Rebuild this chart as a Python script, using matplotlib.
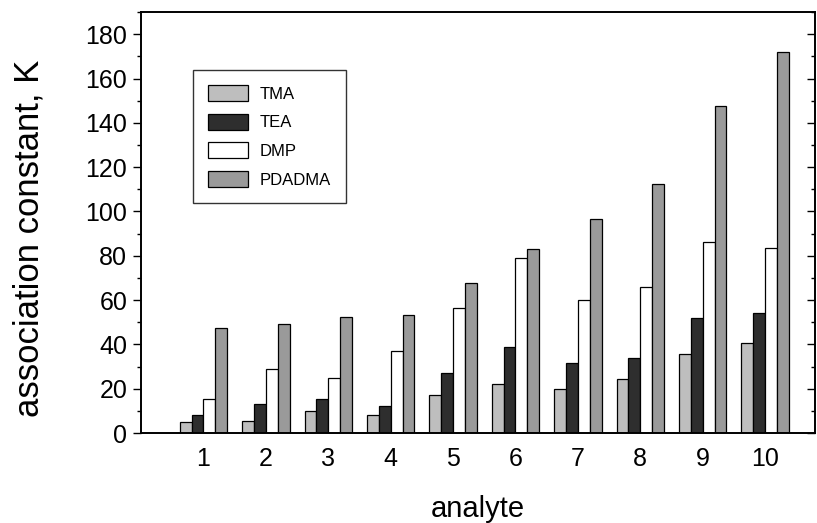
import numpy as np
import matplotlib.pyplot as plt
from matplotlib.ticker import MultipleLocator

plt.rcParams['font.family'] = ['Liberation Sans', 'DejaVu Sans']

analyte = [1, 2, 3, 4, 5, 6, 7, 8, 9, 10]
tma = [4.8, 5.6, 10.0, 8.0, 17.1, 22.1, 19.8, 24.2, 35.8, 40.7]
tea = [8.0, 13.0, 15.5, 12.3, 26.9, 38.9, 31.4, 33.8, 51.7, 54.4]
dmp = [15.2, 28.9, 24.8, 37.1, 56.5, 78.8, 60.0, 66.0, 86.0, 83.6]
pdadma = [47.5, 49.0, 52.3, 53.4, 67.5, 83.0, 96.4, 112.6, 147.6, 172.0]

series = [('TMA', tma, '#bebebe'),
          ('TEA', tea, '#2e2e2e'),
          ('DMP', dmp, '#ffffff'),
          ('PDADMA', pdadma, '#9a9a9a')]


def main():
    fig = plt.figure(figsize=(8.17, 5.23), dpi=100)
    ax = fig.add_axes([0.1726, 0.172, 0.825, 0.805])

    x = np.array(analyte)
    w = 0.19
    for i, (name, vals, col) in enumerate(series):
        ax.bar(x + (i - 1.5) * w, vals, w, color=col, edgecolor='black',
               linewidth=0.9, label=name)

    ax.set_xlim(0.0, 10.8)
    ax.set_ylim(0, 190)
    ax.set_xticks(analyte)
    ax.yaxis.set_major_locator(MultipleLocator(20))
    ax.yaxis.set_minor_locator(MultipleLocator(10))
    ax.tick_params(axis='x', length=0, labelsize=18, pad=10)
    ax.tick_params(axis='y', which='major', direction='out', length=6,
                   width=1, labelsize=18, right=True, pad=4)
    ax.tick_params(axis='y', which='minor', direction='out', length=3,
                   width=1, right=True)
    for sp in ax.spines.values():
        sp.set_linewidth(1.4)

    # ticks on right side point inward
    for t in ax.yaxis.get_major_ticks() + ax.yaxis.get_minor_ticks():
        t.tick2line.set_marker(0)

    ax.set_ylabel('association constant, K', fontsize=25)
    ax.yaxis.set_label_coords(-0.141, 0.463)
    ax.set_xlabel('analyte', fontsize=21, labelpad=17)

    leg = ax.legend(loc='upper left', bbox_to_anchor=(0.077, 0.862),
                    borderaxespad=0, fontsize=12, frameon=True,
                    fancybox=False, edgecolor='black', handlelength=2.4,
                    handleheight=1.1, borderpad=0.9, labelspacing=0.72,
                    handletextpad=0.7)
    leg.get_frame().set_linewidth(1.0)

    fig.savefig('out.png', dpi=100, facecolor='white')


if __name__ == '__main__':
    main()
